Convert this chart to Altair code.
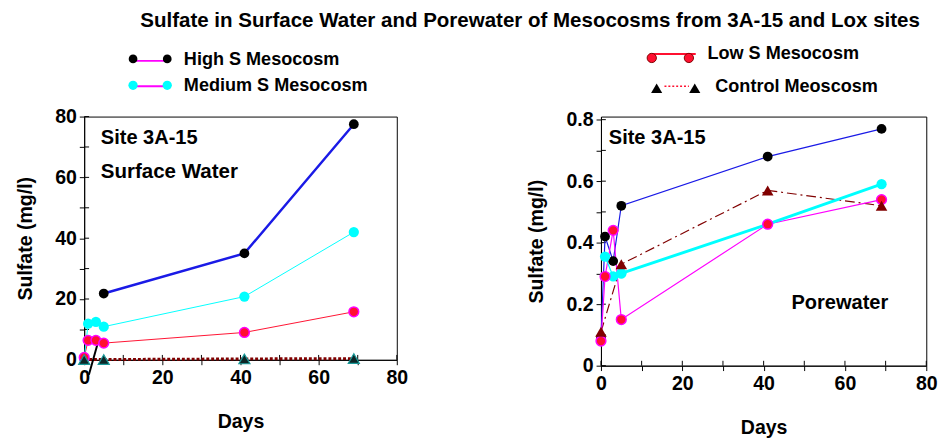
import altair as alt
import pandas as pd

FONT = "Liberation Sans"

# ---------------- Surface water (left panel) ----------------
sw_high_days = [5, 41, 69]
sw_high = [21.8, 35.0, 77.5]
sw_seg_days = [1.2, 3.7]
sw_seg = [-4.9, 6.5]
sw_med_days = [0, 1, 3, 5, 41, 69]
sw_med = [0.3, 11.9, 12.5, 10.9, 20.8, 42.0]
sw_low_days = [0, 1, 3, 5, 41, 69]
sw_low = [0.8, 6.4, 6.4, 5.5, 9.0, 15.8]
sw_ctrl_days = [0, 5, 41, 69]
sw_ctrl = [0.1, 0.1, 0.3, 0.4]

# ---------------- Porewater (right panel) ----------------
pw_high_days = [0, 1, 3, 5, 41, 69]
pw_high = [0.09, 0.42, 0.34, 0.52, 0.68, 0.77]
pw_med_early_days = [1, 3, 5]
pw_med_early = [0.355, 0.29, 0.30]
pw_med_late_days = [5, 41, 69]
pw_med_late = [0.30, 0.46, 0.59]
pw_low_days = [0, 1, 3, 5, 41, 69]
pw_low = [0.08, 0.29, 0.44, 0.15, 0.46, 0.54]
pw_ctrl_days = [0, 5, 41, 69]
pw_ctrl = [0.11, 0.33, 0.57, 0.52]

x_ticks = [0, 10, 20, 30, 40, 50, 60, 70, 80]
sw_y_ticks = [0, 10, 20, 30, 40, 50, 60, 70, 80]
pw_y_ticks = [0, 0.1, 0.2, 0.3, 0.4, 0.5, 0.6, 0.7, 0.8]

TITLE = "Sulfate in Surface Water and Porewater of Mesocosms from 3A-15 and Lox sites"


def df(days, vals):
    return pd.DataFrame({"day": days, "val": vals})


dummy = pd.DataFrame({"k": [0]})


def make_enc(ydomain, yticks, ylabel_expr, yfmt):
    X = alt.X("day:Q", scale=alt.Scale(domain=[0, 80], nice=False, zero=False),
              axis=alt.Axis(values=x_ticks, format="d",
                            labelExpr="datum.value % 20 == 0 ? datum.label : ''",
                            title="Days", titlePadding=25))
    Y = alt.Y("val:Q", scale=alt.Scale(domain=ydomain, nice=False, zero=False),
              axis=alt.Axis(values=yticks, format=yfmt, labelExpr=ylabel_expr,
                            title="Sulfate (mg/l)", titlePadding=20))
    return X, Y


def line(d, X, Y, color, width, dash=None):
    kw = dict(color=color, strokeWidth=width)
    if dash:
        kw["strokeDash"] = dash
    return alt.Chart(d).mark_line(**kw).encode(x=X, y=Y)


def pts(d, X, Y, shape, fill, size, stroke=None, sw=0):
    kw = dict(shape=shape, filled=True, fill=fill, size=size, opacity=1)
    if stroke:
        kw["stroke"] = stroke
        kw["strokeWidth"] = sw
    return alt.Chart(d).mark_point(**kw).encode(x=X, y=Y)


def txt(s, x, y, size=20.5, align="left"):
    return alt.Chart(dummy).mark_text(text=s, font=FONT, fontSize=size, fontWeight="bold",
                                      align=align, baseline="middle", color="black").encode(
        x=alt.value(x), y=alt.value(y))


def lpt(x, y, shape, fill, size, stroke=None, sw=0):
    kw = dict(shape=shape, filled=True, fill=fill, size=size, opacity=1)
    if stroke:
        kw["stroke"] = stroke
        kw["strokeWidth"] = sw
    return alt.Chart(dummy).mark_point(**kw).encode(x=alt.value(x), y=alt.value(y))


def lrule(x1, x2, y, color, width, dash=None):
    kw = dict(color=color, strokeWidth=width)
    if dash:
        kw["strokeDash"] = dash
    return alt.Chart(dummy).mark_rule(**kw).encode(x=alt.value(x1), x2=alt.value(x2), y=alt.value(y))


def inner_ticks(X, Y, H, yticks):
    xt = alt.Chart(pd.DataFrame({"day": x_ticks})).mark_rule(color="black", strokeWidth=1).encode(
        x=X, y=alt.value(H - 5), y2=alt.value(H))
    yt = alt.Chart(pd.DataFrame({"val": yticks})).mark_rule(color="black", strokeWidth=1).encode(
        y=Y, x=alt.value(0), x2=alt.value(5))
    return [xt, yt]


BLUE = "#1a1ae6"
CYAN = "#00ffff"
RED = "#ff1030"
MAG = "#ff00ff"
MAROON = "#800000"
LEG = 18.5

# ----- left panel -----
LW, LH = 320, 249
X1, Y1 = make_enc([0, 80], sw_y_ticks, "datum.value % 20 == 0 ? datum.label : ''", "d")
left_layers = inner_ticks(X1, Y1, LH, sw_y_ticks) + [
    line(df(sw_ctrl_days, sw_ctrl), X1, Y1, MAROON, 3, [3, 2]),
    line(df(sw_low_days, sw_low), X1, Y1, RED, 1),
    line(df(sw_med_days, sw_med), X1, Y1, CYAN, 1),
    line(df(sw_high_days, sw_high), X1, Y1, BLUE, 2.5),
    line(df(sw_seg_days, sw_seg), X1, Y1, "black", 2),
    pts(df(sw_high_days, sw_high), X1, Y1, "circle", "black", 100),
    pts(df(sw_med_days, sw_med), X1, Y1, "circle", CYAN, 110),
    pts(df(sw_low_days, sw_low), X1, Y1, "circle", RED, 100, MAG, 1.5),
    pts(df(sw_ctrl_days, sw_ctrl), X1, Y1, "triangle-up", "#0d2626", 130, "#1a9a9a", 1.2),
    txt("Site 3A-15", 17, 22),
    txt("Surface Water", 17, 57, 21),
    # legend (upper left)
    lrule(50, 85, -57, MAG, 2),
    lpt(50, -59, "circle", "black", 80),
    lpt(85, -59, "circle", "black", 80),
    txt("High S Mesocosm", 102, -59, LEG),
    lrule(50, 85, -31, MAG, 2),
    lpt(50, -32, "circle", CYAN, 90),
    lpt(85, -32, "circle", CYAN, 90),
    txt("Medium S Mesocosm", 102, -32, LEG),
]
left = alt.layer(*left_layers).properties(width=LW, height=LH)

# ----- right panel -----
RW, RH = 333, 255
X2, Y2 = make_enc([0, 0.81], pw_y_ticks,
                  "round(datum.value * 10) % 2 == 0 ? datum.label : ''", ".1~f")
right_layers = inner_ticks(X2, Y2, RH, pw_y_ticks) + [
    line(df(pw_ctrl_days, pw_ctrl), X2, Y2, MAROON, 1.2, [10, 4, 2, 4]),
    line(df(pw_high_days, pw_high), X2, Y2, BLUE, 1.2),
    line(df(pw_low_days, pw_low), X2, Y2, MAG, 1.2),
    line(df(pw_med_early_days, pw_med_early), X2, Y2, CYAN, 1.2),
    line(df(pw_med_late_days, pw_med_late), X2, Y2, CYAN, 3),
    pts(df(pw_high_days, pw_high), X2, Y2, "circle", "black", 100),
    pts(df(pw_med_early_days, pw_med_early), X2, Y2, "circle", CYAN, 110),
    pts(df(pw_med_late_days, pw_med_late), X2, Y2, "circle", CYAN, 110),
    pts(df(pw_low_days, pw_low), X2, Y2, "circle", RED, 100, MAG, 1.5),
    pts(df(pw_ctrl_days, pw_ctrl), X2, Y2, "triangle-up", MAROON, 140),
    txt("Site 3A-15", 8, 22),
    txt("Porewater", 195, 191),
    # legend (upper right)
    lrule(53, 97, -64, RED, 2),
    lpt(52, -60, "circle", RED, 90, MAROON, 1),
    lpt(90, -60, "circle", RED, 90, MAROON, 1),
    txt("Low S Mesocosm", 109, -65, LEG),
    lrule(65, 90, -31, RED, 1.5, [2, 2]),
    lpt(57, -29, "triangle-up", "black", 130),
    lpt(96, -29, "triangle-up", "black", 130),
    txt("Control Meoscosm", 117, -31, LEG),
]
right = alt.layer(*right_layers).properties(width=RW, height=RH)

chart = alt.hconcat(left, right, spacing=120).properties(
    title=alt.TitleParams(TITLE, font=FONT, fontSize=21, fontWeight="bold",
                          anchor="middle", dx=55, offset=13, color="black"),
    padding={"left": 7, "top": -3, "right": 0, "bottom": 0},
).configure(font=FONT).configure_view(stroke="black", strokeWidth=1).configure_axis(
    labelFont=FONT, labelFontSize=20, labelFontWeight="bold", labelColor="black",
    titleFont=FONT, titleFontSize=20, titleFontWeight="bold", titleColor="black",
    tickSize=5, tickColor="black", domainColor="black", grid=False, labelPadding=3,
    labelFlush=False, labelOverlap=False,
)

chart.save("out.html", embed_options={"renderer": "svg", "actions": False})
